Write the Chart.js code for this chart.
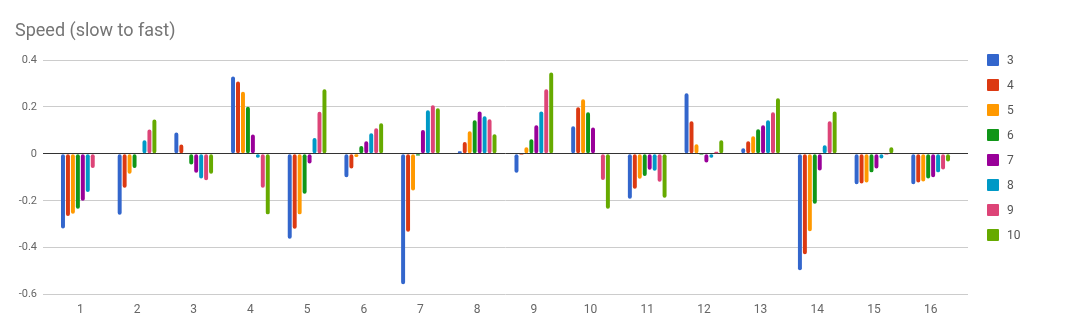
<!DOCTYPE html>
<html>
<head>
<meta charset="utf-8">
<script src="https://cdn.jsdelivr.net/npm/chart.js@4"></script>
<style>
  html, body { margin: 0; padding: 0; background: #fff; }
  #wrap { position: relative; width: 1092px; height: 334px; }
  #legend { position: absolute; left: 987px; top: 54px; font-family: Roboto, sans-serif; font-size: 12px; color: #555; }
  .item { position: relative; height: 25px; }
  .box { position: absolute; left: 0; top: 0; width: 12px; height: 12px; border-radius: 1px; }
  .lbl { position: absolute; left: 20px; top: -1px; line-height: 14px; }
</style>
</head>
<body>
<div id="wrap"><canvas id="chart"></canvas><div id="legend"></div></div>
<script>
const categories = ["1", "2", "3", "4", "5", "6", "7", "8", "9", "10", "11", "12", "13", "14", "15", "16"];
const seriesNames = ["3", "4", "5", "6", "7", "8", "9", "10"];
const colors = ["#3366cc", "#dc3912", "#ff9900", "#109618", "#990099", "#0099c6", "#dd4477", "#66aa00"];

const s3  = [-0.318, -0.26, 0.091, 0.33, -0.362, -0.10, -0.556, 0.011, -0.081, 0.118, -0.191, 0.258, 0.024, -0.496, -0.13, -0.13];
const s4  = [-0.265, -0.145, 0.04, 0.308, -0.319, -0.062, -0.332, 0.05, -0.004, 0.199, -0.149, 0.139, 0.054, -0.428, -0.126, -0.122];
const s5  = [-0.255, -0.085, -0.002, 0.265, -0.258, -0.013, -0.156, 0.096, 0.028, 0.233, -0.106, 0.041, 0.075, -0.33, -0.122, -0.118];
const s6  = [-0.234, -0.06, -0.045, 0.201, -0.17, 0.033, -0.007, 0.143, 0.062, 0.177, -0.094, -0.004, 0.105, -0.213, -0.079, -0.105];
const s7  = [-0.20, 0, -0.081, 0.082, -0.041, 0.054, 0.102, 0.181, 0.122, 0.112, -0.068, -0.037, 0.122, -0.071, -0.062, -0.10];
const s8  = [-0.163, 0.058, -0.105, -0.017, 0.067, 0.088, 0.186, 0.16, 0.181, 0, -0.072, -0.017, 0.143, 0.037, -0.02, -0.079];
const s9  = [-0.06, 0.104, -0.113, -0.145, 0.179, 0.109, 0.207, 0.147, 0.275, -0.111, -0.119, 0.009, 0.177, 0.139, -0.004, -0.067];
const s10 = [0, 0.146, -0.085, -0.258, 0.275, 0.13, 0.194, 0.084, 0.347, -0.234, -0.187, 0.058, 0.237, 0.181, 0.028, -0.033];
const seriesValues = [s3, s4, s5, s6, s7, s8, s9, s10];

const yTicks = [0.4, 0.2, 0, -0.2, -0.4, -0.6];

// html legend on the right
const legendEl = document.getElementById("legend");
seriesNames.forEach((name, i) => {
  const item = document.createElement("div");
  item.className = "item";
  item.innerHTML = '<span class="box" style="background:' + colors[i] + '"></span><span class="lbl">' + name + "</span>";
  legendEl.appendChild(item);
});

const lineColor = (c) => (c.tick && c.tick.value === 0 ? "#333" : "#ccc");
const setTicks = (scale) => {
  scale.ticks = yTicks.map((v) => ({ value: v }));
};

const ctx = document.getElementById("chart").getContext("2d");
new Chart(ctx, {
  type: "bar",
  data: {
    labels: categories,
    datasets: seriesNames.map((name, i) => ({
      label: name,
      data: seriesValues[i],
      backgroundColor: colors[i],
      borderRadius: 2,
      borderSkipped: false,
      categoryPercentage: 0.7,
      barPercentage: 0.8,
    })),
  },
  options: {
    responsive: true,
    maintainAspectRatio: false,
    animation: false,
    layout: { padding: { left: 15, right: 124, top: 10, bottom: 9 } },
    plugins: {
      title: {
        display: true,
        text: "Speed (slow to fast)",
        align: "start",
        color: "#757575",
        font: { family: "Roboto", size: 18, weight: "normal" },
        padding: { top: 11, bottom: 17.4 },
      },
      legend: { display: false },
      tooltip: { enabled: false },
    },
    scales: {
      x: {
        grid: { display: false, drawTicks: false },
        border: { display: false },
        ticks: { padding: 8, color: "#666", font: { family: "Roboto", size: 12 } },
      },
      y: {
        min: -0.6,
        max: 0.4,
        afterBuildTicks: setTicks,
        afterFit: (scale) => {
          scale.width = 37;
        },
        border: { display: false },
        grid: { color: lineColor, tickColor: lineColor, tickLength: 9 },
        ticks: {
          padding: 6,
          color: "#666",
          font: { family: "Roboto", size: 11 },
          callback: (v) => String(Math.round(v * 10) / 10),
        },
      },
      y2: {
        position: "right",
        min: -0.6,
        max: 0.4,
        afterBuildTicks: setTicks,
        afterFit: (scale) => {
          scale.width = 9;
        },
        border: { display: false },
        grid: { drawOnChartArea: false, tickColor: lineColor, tickLength: 9 },
        ticks: { display: false },
      },
    },
  },
});
</script>
</body>
</html>
